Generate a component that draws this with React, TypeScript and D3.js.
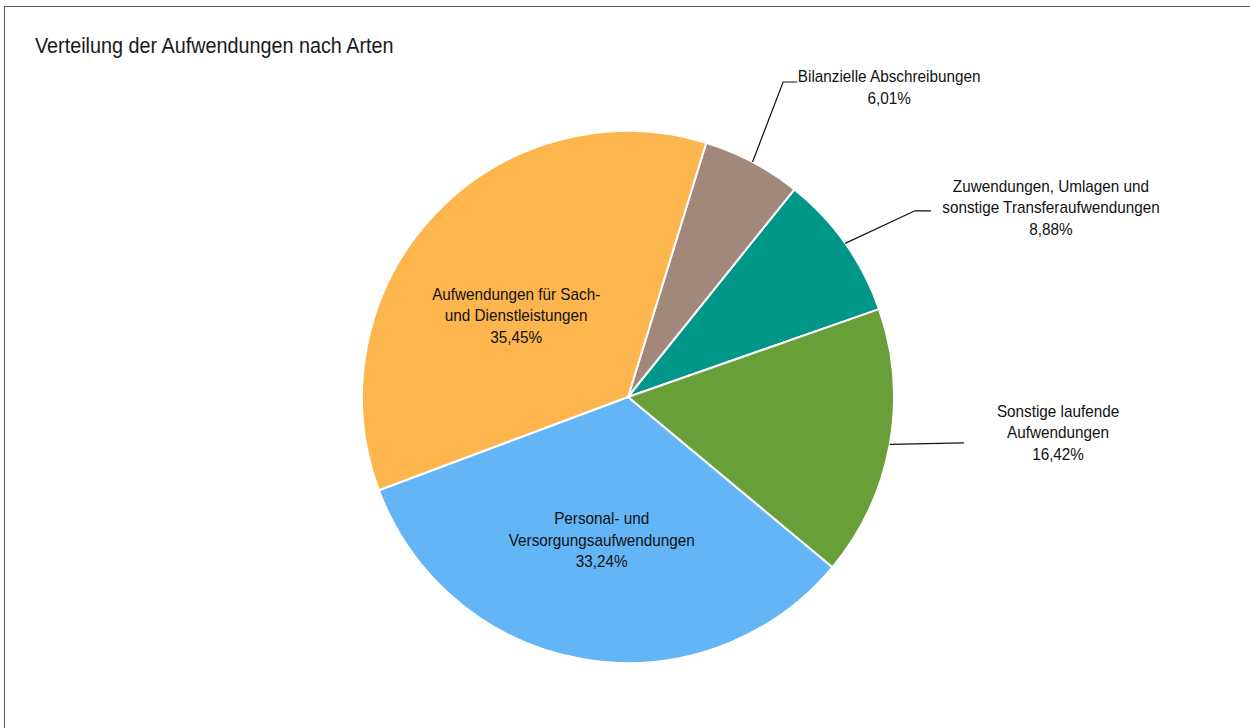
import { arc, pie, type PieArcDatum } from 'd3';
import { useMemo } from 'react';

const categories = [
  'Bilanzielle Abschreibungen',
  'Zuwendungen, Umlagen und sonstige Transferaufwendungen',
  'Sonstige laufende Aufwendungen',
  'Personal- und Versorgungsaufwendungen',
  'Aufwendungen für Sach- und Dienstleistungen',
];
const shares = [6.01, 8.88, 16.42, 33.24, 35.45];
const labelLines = [
  ['Bilanzielle Abschreibungen', '6,01%'],
  ['Zuwendungen, Umlagen und', 'sonstige Transferaufwendungen', '8,88%'],
  ['Sonstige laufende', 'Aufwendungen', '16,42%'],
  ['Personal- und', 'Versorgungsaufwendungen', '33,24%'],
  ['Aufwendungen für Sach-', 'und Dienstleistungen', '35,45%'],
];
const colors = ['#a1887b', '#009688', '#689f38', '#64b5f6', '#fdb54e'];
const outside = [true, true, true, false, false];

const WIDTH = 1250;
const HEIGHT = 728;
const CX = 628;
const CY = 397;
const RADIUS = 266;
const START = (17.1 * Math.PI) / 180;
const FONT = '"Liberation Sans", Arial, sans-serif';
const DEG = Math.PI / 180;
// the source font is a slightly condensed Arial
const SQUEEZE = 0.91;

// leader line layout for the outside labels
const leaderStyle = [
  { radius: 1.32, shift: -1.7, tail: 14, dx: 92, dy: 0 },
  { radius: 1.286, shift: 2.3, tail: 16, dx: 120, dy: -19 },
  { radius: 1.275, shift: -2.5, tail: 0, dx: 94, dy: -26 },
];
const insideStyle = [
  { radius: 0.5, dx: -4, dy: -9 },
  { radius: 0.5, dx: -15, dy: -11 },
];

type Datum = { name: string; value: number; index: number };

function polar(angle: number, r: number) {
  return [r * Math.sin(angle), -r * Math.cos(angle)] as const;
}

function Label({ x, y, children }: { x: number; y: number; children: string }) {
  return (
    <text transform={`translate(${x},${y}) scale(${SQUEEZE},1)`}>{children}</text>
  );
}

export default function App() {
  const arcs = useMemo(() => {
    const layout = pie<Datum>()
      .value((d) => d.value)
      .sort(null)
      .startAngle(START)
      .endAngle(START + Math.PI * 2);
    return layout(categories.map((name, index) => ({ name, value: shares[index], index })));
  }, []);

  const slicePath = arc<PieArcDatum<Datum>>().innerRadius(0).outerRadius(RADIUS);

  let outsideIndex = 0;
  let insideIndex = 0;

  return (
    <div style={{ position: 'absolute', left: 0, top: 0, width: WIDTH, height: HEIGHT, background: '#fff' }}>
      <svg width={WIDTH} height={HEIGHT} viewBox={`0 0 ${WIDTH} ${HEIGHT}`} style={{ display: 'block' }}>
        <rect x={4.5} y={6.5} width={WIDTH + 20} height={HEIGHT + 20} fill="#fff" stroke="#5a5a5a" strokeWidth={1} />
        <text
          transform={`translate(35,53) scale(0.9,1)`}
          fontFamily={FONT}
          fontSize={22}
          fill="#1a1a1a"
        >
          Verteilung der Aufwendungen nach Arten
        </text>

        <g transform={`translate(${CX},${CY})`}>
          {arcs.map((d) => (
            <path
              key={d.data.name}
              d={slicePath(d) ?? ''}
              fill={colors[d.data.index]}
              stroke="#fff"
              strokeWidth={2}
              strokeLinejoin="round"
            />
          ))}

          <g fontFamily={FONT} fontSize={16.8} fill="#111" textAnchor="middle">
            {arcs.map((d) => {
              const mid = (d.startAngle + d.endAngle) / 2;
              const lines = labelLines[d.data.index];
              if (outside[d.data.index]) {
                const style = leaderStyle[outsideIndex++];
                const [ex, ey] = polar(mid, RADIUS);
                const [kx, ky] = polar(mid + style.shift * DEG, RADIUS * style.radius);
                const tx = kx + style.tail;
                return (
                  <g key={d.data.name}>
                    <polyline
                      points={`${ex},${ey} ${kx},${ky} ${tx},${ky}`}
                      fill="none"
                      stroke="#111"
                      strokeWidth={1.2}
                    />
                    {lines.map((line, i) => (
                      <Label key={line} x={tx + style.dx} y={ky + style.dy + i * 21.5}>
                        {line}
                      </Label>
                    ))}
                  </g>
                );
              }
              const style = insideStyle[insideIndex++];
              const [cx, cy] = polar(mid, RADIUS * style.radius);
              return (
                <g key={d.data.name}>
                  {lines.map((line, i) => (
                    <Label key={line} x={cx + style.dx} y={cy + style.dy + i * 21.5 + 5}>
                      {line}
                    </Label>
                  ))}
                </g>
              );
            })}
          </g>
        </g>
      </svg>
    </div>
  );
}
